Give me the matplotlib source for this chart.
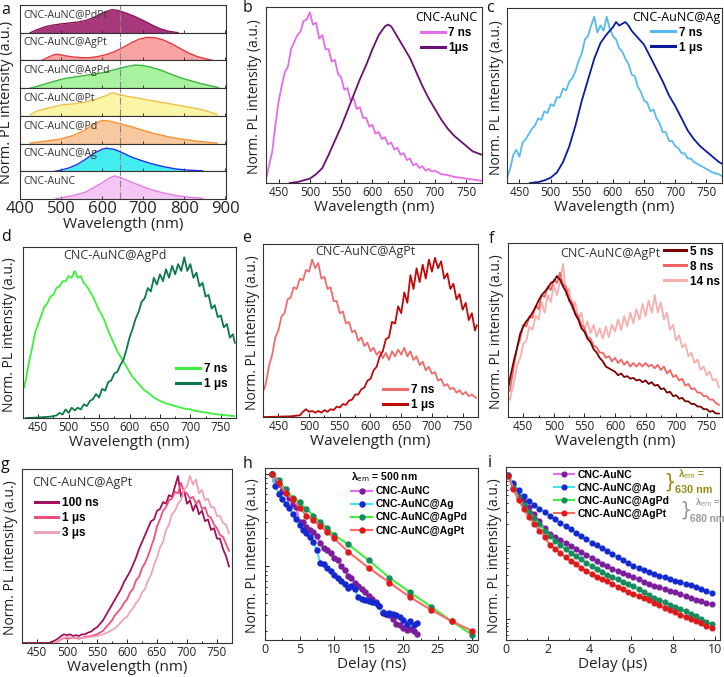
import numpy as np
import matplotlib
matplotlib.use('Agg')
import matplotlib.pyplot as plt

W, H = 724, 677
plt.rcParams['font.family'] = ['Open Sans', 'DejaVu Sans']
plt.rcParams['mathtext.fontset'] = 'dejavusans'
BOLD = ['Liberation Sans', 'DejaVu Sans']

# ---------------- data: panel a (normalized, stacked) ----------------
a_names = ['CNC-AuNC@PdPt', 'CNC-AuNC@AgPt', 'CNC-AuNC@AgPd', 'CNC-AuNC@Pt',
           'CNC-AuNC@Pd', 'CNC-AuNC@Ag', 'CNC-AuNC']
a_PdPt = [(425, 0), (440, 0.12), (460, 0.25), (480, 0.33), (500, 0.38), (520, 0.42), (540, 0.46),
          (560, 0.53), (580, 0.66), (600, 0.84), (615, 0.95), (625, 1.0), (640, 0.96), (660, 0.84),
          (680, 0.70), (700, 0.53), (720, 0.35), (740, 0.18), (760, 0.07), (785, 0.0)]
a_AgPt = [(453, 0), (470, 0.15), (485, 0.26), (495, 0.26), (510, 0.2), (530, 0.15), (550, 0.12),
          (570, 0.12), (590, 0.17), (610, 0.25), (630, 0.38), (650, 0.55), (670, 0.75), (690, 0.92),
          (710, 1.0), (730, 0.98), (750, 0.88), (770, 0.72), (790, 0.52), (810, 0.33), (830, 0.18),
          (850, 0.08), (870, 0.0)]
a_AgPd = [(425, 0), (450, 0.12), (480, 0.28), (510, 0.42), (540, 0.5), (570, 0.58), (600, 0.66),
          (630, 0.8), (660, 0.93), (680, 1.0), (700, 0.98), (720, 0.9), (740, 0.8), (760, 0.66),
          (780, 0.52), (800, 0.4), (820, 0.3), (840, 0.2), (860, 0.12), (880, 0.04), (885, 0)]
a_Pt = [(425, 0.05), (440, 0.2), (460, 0.3), (480, 0.38), (500, 0.47), (530, 0.52), (560, 0.6),
        (590, 0.75), (610, 0.88), (625, 1.0), (640, 0.93), (660, 0.85), (690, 0.76), (720, 0.66),
        (750, 0.57), (780, 0.48), (810, 0.38), (840, 0.28), (860, 0.18), (880, 0.06)]
a_Pd = [(425, 0.02), (460, 0.1), (500, 0.2), (530, 0.35), (560, 0.6), (580, 0.85), (600, 1.0),
        (620, 0.97), (640, 0.88), (670, 0.74), (700, 0.57), (730, 0.42), (760, 0.3), (790, 0.2),
        (820, 0.13), (850, 0.07), (880, 0.02)]
a_Ag = [(486, 0), (500, 0.05), (520, 0.15), (540, 0.3), (560, 0.52), (580, 0.78), (600, 0.95),
        (610, 1.0), (630, 0.95), (650, 0.8), (670, 0.63), (690, 0.5), (720, 0.33), (750, 0.2),
        (780, 0.1), (810, 0.05), (845, 0.02)]
a_AuNC = [(486, 0), (500, 0.05), (530, 0.15), (560, 0.3), (580, 0.5), (600, 0.7), (615, 0.88),
          (630, 1.0), (645, 0.93), (665, 0.78), (690, 0.6), (720, 0.4), (750, 0.26), (780, 0.15),
          (810, 0.08), (845, 0.03)]
a_ref_line = 643

# ---------------- data: panel b ----------------
b_7ns = [(430, 0.02), (435, 0.10), (440, 0.18), (445, 0.33), (450, 0.46), (455, 0.55), (460, 0.63),
         (465, 0.66), (470, 0.76), (475, 0.80), (480, 0.84), (485, 0.86), (490, 0.92), (495, 0.93),
         (500, 0.97), (505, 0.90), (510, 0.91), (515, 0.82), (520, 0.84), (525, 0.76), (530, 0.76),
         (535, 0.69), (540, 0.70), (545, 0.62), (550, 0.60), (555, 0.53), (560, 0.54), (565, 0.47),
         (570, 0.48), (575, 0.42), (580, 0.43), (585, 0.37), (590, 0.37), (595, 0.32), (600, 0.33),
         (605, 0.28), (610, 0.29), (615, 0.25), (620, 0.26), (625, 0.22), (630, 0.23), (635, 0.19),
         (640, 0.20), (645, 0.16), (650, 0.17), (655, 0.13), (660, 0.14), (665, 0.10), (670, 0.11),
         (675, 0.085), (680, 0.095), (685, 0.07), (690, 0.08), (695, 0.065), (700, 0.07), (710, 0.05),
         (720, 0.045), (730, 0.035), (740, 0.03), (750, 0.025), (760, 0.02), (770, 0.015), (775, 0.012)]
b_1us = [(468, 0.0), (480, 0.005), (490, 0.015), (500, 0.025), (510, 0.05), (520, 0.085), (530, 0.16),
         (540, 0.24), (550, 0.32), (560, 0.41), (570, 0.50), (580, 0.59), (590, 0.67), (600, 0.76),
         (610, 0.84), (620, 0.89), (625, 0.90), (630, 0.89), (640, 0.83), (650, 0.77), (660, 0.71),
         (670, 0.63), (680, 0.55), (690, 0.48), (700, 0.42), (710, 0.36), (720, 0.31), (730, 0.27),
         (740, 0.24), (750, 0.21), (760, 0.18), (775, 0.16)]

# ---------------- data: panel c ----------------
c_7ns = [(430, 0.03), (435, 0.08), (440, 0.16), (445, 0.19), (450, 0.15), (455, 0.23), (460, 0.25),
         (465, 0.28), (470, 0.31), (475, 0.33), (480, 0.37), (485, 0.36), (490, 0.41), (495, 0.40),
         (500, 0.45), (505, 0.44), (510, 0.49), (515, 0.49), (520, 0.54), (525, 0.53), (530, 0.58),
         (535, 0.60), (540, 0.64), (545, 0.70), (550, 0.74), (555, 0.82), (560, 0.84), (565, 0.90),
         (570, 0.95), (575, 0.86), (580, 0.90), (585, 0.87), (590, 0.95), (595, 0.88), (600, 0.84),
         (605, 0.82), (610, 0.77), (615, 0.75), (620, 0.71), (625, 0.68), (630, 0.62), (635, 0.61),
         (640, 0.55), (645, 0.52), (650, 0.47), (655, 0.46), (660, 0.41), (665, 0.42), (670, 0.37),
         (675, 0.34), (680, 0.29), (685, 0.29), (690, 0.24), (695, 0.24), (700, 0.21), (705, 0.20),
         (710, 0.17), (715, 0.17), (720, 0.14), (725, 0.14), (730, 0.12), (740, 0.10), (750, 0.08),
         (760, 0.06), (770, 0.05), (775, 0.04)]
c_1us = [(467, 0.0), (480, 0.005), (490, 0.015), (500, 0.03), (510, 0.06), (520, 0.12), (530, 0.21),
         (540, 0.33), (550, 0.47), (560, 0.59), (570, 0.71), (580, 0.80), (590, 0.85), (600, 0.89),
         (605, 0.92), (610, 0.90), (615, 0.91), (620, 0.92), (625, 0.90), (630, 0.87), (640, 0.83),
         (650, 0.79), (660, 0.72), (670, 0.65), (680, 0.58), (690, 0.50), (700, 0.44), (710, 0.37),
         (720, 0.30), (730, 0.25), (740, 0.21), (750, 0.18), (760, 0.15), (770, 0.12), (775, 0.11)]

# ---------------- data: panel d ----------------
d_7ns = [(427, 0.18), (430, 0.23), (435, 0.33), (440, 0.41), (445, 0.50), (450, 0.55), (455, 0.60),
         (460, 0.65), (465, 0.67), (470, 0.71), (475, 0.72), (480, 0.76), (485, 0.77), (490, 0.80),
         (495, 0.80), (500, 0.83), (505, 0.82), (510, 0.86), (515, 0.82), (520, 0.83), (525, 0.79),
         (530, 0.77), (535, 0.74), (540, 0.71), (545, 0.67), (550, 0.63), (555, 0.60), (560, 0.56),
         (565, 0.51), (570, 0.47), (575, 0.43), (580, 0.39), (585, 0.36), (590, 0.33), (595, 0.30),
         (600, 0.27), (605, 0.24), (610, 0.22), (615, 0.20), (620, 0.18), (625, 0.16), (630, 0.15),
         (640, 0.12), (650, 0.10), (660, 0.085), (670, 0.075), (680, 0.065), (690, 0.055), (700, 0.05),
         (710, 0.04), (720, 0.035), (730, 0.03), (740, 0.022), (750, 0.02), (760, 0.015), (772, 0.012)]
d_1us = [(430, 0.0), (450, 0.003), (470, 0.008), (480, 0.015), (485, 0.03), (490, 0.02), (495, 0.05),
         (500, 0.03), (505, 0.06), (510, 0.045), (515, 0.06), (520, 0.05), (525, 0.08), (530, 0.07),
         (535, 0.10), (540, 0.11), (545, 0.14), (550, 0.12), (555, 0.17), (560, 0.16), (565, 0.21),
         (570, 0.22), (575, 0.26), (580, 0.27), (585, 0.31), (590, 0.34), (595, 0.40), (600, 0.47),
         (605, 0.52), (610, 0.58), (615, 0.62), (620, 0.68), (625, 0.70), (630, 0.76), (635, 0.74),
         (640, 0.82), (645, 0.78), (650, 0.84), (655, 0.80), (660, 0.87), (665, 0.82), (670, 0.89),
         (675, 0.84), (680, 0.90), (685, 0.86), (690, 0.94), (695, 0.86), (700, 0.90), (705, 0.82),
         (710, 0.85), (715, 0.77), (720, 0.79), (725, 0.71), (730, 0.72), (735, 0.64), (740, 0.66),
         (745, 0.59), (750, 0.60), (755, 0.53), (760, 0.55), (765, 0.47), (770, 0.49), (773, 0.44)]

# ---------------- data: panel e ----------------
e_7ns = [(427, 0.16), (430, 0.20), (435, 0.30), (440, 0.36), (445, 0.46), (450, 0.50), (455, 0.58),
         (460, 0.60), (465, 0.68), (470, 0.69), (475, 0.75), (480, 0.74), (485, 0.80), (490, 0.79),
         (495, 0.85), (500, 0.84), (505, 0.91), (510, 0.86), (515, 0.89), (520, 0.80), (525, 0.81),
         (530, 0.74), (535, 0.75), (540, 0.67), (545, 0.67), (550, 0.60), (555, 0.61), (560, 0.54),
         (565, 0.55), (570, 0.49), (575, 0.50), (580, 0.44), (585, 0.46), (590, 0.41), (595, 0.43),
         (600, 0.38), (605, 0.40), (610, 0.36), (615, 0.38), (620, 0.34), (625, 0.37), (630, 0.33),
         (635, 0.38), (640, 0.35), (645, 0.39), (650, 0.36), (655, 0.40), (660, 0.35), (665, 0.38),
         (670, 0.33), (675, 0.35), (680, 0.30), (685, 0.32), (690, 0.27), (695, 0.29), (700, 0.25),
         (705, 0.26), (710, 0.21), (715, 0.22), (720, 0.18), (725, 0.19), (730, 0.16), (735, 0.17),
         (740, 0.14), (745, 0.155), (750, 0.13), (755, 0.145), (760, 0.12), (765, 0.13), (772, 0.11)]
e_1us = [(427, 0.0), (450, 0.002), (470, 0.004), (480, 0.008), (485, 0.01), (490, 0.03), (495, 0.045),
         (500, 0.03), (505, 0.035), (510, 0.025), (515, 0.035), (520, 0.025), (525, 0.04), (530, 0.03),
         (535, 0.045), (540, 0.04), (545, 0.06), (550, 0.055), (555, 0.075), (560, 0.07), (565, 0.095),
         (570, 0.10), (575, 0.13), (580, 0.13), (585, 0.16), (590, 0.17), (595, 0.21), (600, 0.22),
         (605, 0.27), (610, 0.29), (615, 0.35), (620, 0.38), (625, 0.45), (630, 0.46), (635, 0.55),
         (640, 0.54), (645, 0.64), (650, 0.60), (655, 0.72), (660, 0.66), (665, 0.82), (670, 0.74),
         (675, 0.86), (680, 0.78), (685, 0.88), (690, 0.80), (695, 0.91), (700, 0.84), (705, 0.92),
         (710, 0.86), (715, 0.90), (720, 0.80), (725, 0.83), (730, 0.74), (735, 0.77), (740, 0.68),
         (745, 0.71), (750, 0.62), (755, 0.66), (760, 0.56), (765, 0.60), (770, 0.50), (773, 0.53)]

# ---------------- data: panel f ----------------
f_5ns = [(426, 0.18), (430, 0.25), (435, 0.33), (440, 0.40), (445, 0.48), (450, 0.52), (455, 0.55),
         (460, 0.57), (465, 0.60), (470, 0.63), (475, 0.67), (480, 0.70), (485, 0.72), (490, 0.74),
         (495, 0.77), (500, 0.78), (505, 0.81), (510, 0.79), (515, 0.75), (520, 0.72), (525, 0.67),
         (530, 0.64), (535, 0.59), (540, 0.56), (545, 0.51), (550, 0.49), (555, 0.45), (560, 0.43),
         (565, 0.39), (570, 0.37), (575, 0.34), (580, 0.32), (585, 0.29), (590, 0.28), (595, 0.27),
         (600, 0.26), (605, 0.24), (610, 0.25), (615, 0.23), (620, 0.235), (625, 0.22), (630, 0.225),
         (635, 0.21), (640, 0.215), (645, 0.20), (650, 0.21), (655, 0.19), (660, 0.20), (665, 0.18),
         (670, 0.185), (675, 0.16), (680, 0.165), (685, 0.14), (690, 0.145), (695, 0.12), (700, 0.125),
         (705, 0.105), (710, 0.11), (715, 0.09), (720, 0.09), (725, 0.075), (730, 0.075), (735, 0.06),
         (740, 0.06), (745, 0.045), (750, 0.045), (755, 0.03), (760, 0.035), (765, 0.02), (770, 0.02)]
f_8ns = [(428, 0.15), (435, 0.30), (440, 0.40), (445, 0.45), (450, 0.53), (455, 0.52), (460, 0.58),
         (465, 0.57), (470, 0.64), (475, 0.62), (480, 0.70), (485, 0.69), (490, 0.75), (495, 0.73),
         (500, 0.79), (505, 0.77), (510, 0.83), (515, 0.76), (520, 0.75), (525, 0.68), (530, 0.66),
         (535, 0.60), (540, 0.58), (545, 0.53), (550, 0.51), (555, 0.46), (560, 0.45), (565, 0.41),
         (570, 0.40), (575, 0.37), (580, 0.37), (585, 0.34), (590, 0.35), (595, 0.32), (600, 0.34),
         (605, 0.31), (610, 0.33), (615, 0.30), (620, 0.32), (625, 0.29), (630, 0.31), (635, 0.29),
         (640, 0.31), (645, 0.29), (650, 0.31), (655, 0.29), (660, 0.30), (665, 0.28), (670, 0.30),
         (675, 0.27), (680, 0.29), (685, 0.25), (690, 0.27), (695, 0.23), (700, 0.24), (705, 0.21),
         (710, 0.22), (715, 0.18), (720, 0.19), (725, 0.16), (730, 0.165), (735, 0.14), (740, 0.14),
         (745, 0.12), (750, 0.12), (755, 0.10), (760, 0.10), (765, 0.08), (770, 0.07)]
f_14ns = [(428, 0.10), (432, 0.16), (436, 0.22), (440, 0.30), (445, 0.34), (450, 0.42), (455, 0.44),
          (460, 0.52), (465, 0.50), (470, 0.58), (475, 0.56), (480, 0.66), (485, 0.60), (490, 0.70),
          (495, 0.66), (500, 0.76), (505, 0.70), (510, 0.78), (515, 0.88), (520, 0.70), (525, 0.74),
          (530, 0.62), (535, 0.66), (540, 0.56), (545, 0.60), (550, 0.50), (555, 0.55), (560, 0.48),
          (565, 0.53), (570, 0.46), (575, 0.51), (580, 0.45), (585, 0.52), (590, 0.46), (595, 0.53),
          (600, 0.49), (605, 0.56), (610, 0.50), (615, 0.58), (620, 0.52), (625, 0.60), (630, 0.54),
          (635, 0.62), (640, 0.56), (645, 0.65), (650, 0.58), (655, 0.67), (660, 0.60), (665, 0.70),
          (670, 0.60), (675, 0.66), (680, 0.56), (685, 0.60), (690, 0.50), (695, 0.53), (700, 0.44),
          (705, 0.47), (710, 0.40), (715, 0.42), (720, 0.35), (725, 0.37), (730, 0.31), (735, 0.33),
          (740, 0.27), (745, 0.29), (750, 0.24), (755, 0.26), (760, 0.21), (765, 0.22), (770, 0.17)]

# ---------------- data: panel g ----------------
g_100ns = [(427, 0.0), (470, 0.0), (480, 0.015), (485, 0.025), (490, 0.04), (495, 0.05), (500, 0.045),
           (505, 0.05), (510, 0.04), (515, 0.045), (520, 0.04), (525, 0.05), (530, 0.05), (535, 0.06),
           (540, 0.065), (545, 0.08), (550, 0.09), (555, 0.11), (560, 0.13), (565, 0.16), (570, 0.19),
           (575, 0.22), (580, 0.25), (585, 0.28), (590, 0.31), (595, 0.35), (600, 0.38), (605, 0.41),
           (610, 0.45), (615, 0.49), (620, 0.54), (625, 0.58), (630, 0.62), (635, 0.66), (640, 0.70),
           (645, 0.71), (650, 0.76), (655, 0.77), (660, 0.81), (665, 0.80), (670, 0.85), (675, 0.84),
           (680, 0.90), (685, 0.96), (690, 0.84), (695, 0.88), (700, 0.80), (705, 0.82), (710, 0.76),
           (715, 0.80), (720, 0.74), (725, 0.76), (730, 0.70), (735, 0.71), (740, 0.65), (745, 0.66),
           (750, 0.60), (755, 0.60), (760, 0.54), (765, 0.50), (770, 0.44)]
g_1us = [(480, 0.0), (490, 0.02), (495, 0.03), (500, 0.025), (510, 0.03), (520, 0.025), (530, 0.035),
         (540, 0.04), (550, 0.05), (555, 0.06), (560, 0.07), (565, 0.09), (570, 0.11), (575, 0.13),
         (580, 0.16), (585, 0.18), (590, 0.20), (595, 0.23), (600, 0.25), (605, 0.29), (610, 0.31),
         (615, 0.36), (620, 0.38), (625, 0.43), (630, 0.46), (635, 0.50), (640, 0.55), (645, 0.60),
         (650, 0.67), (655, 0.71), (660, 0.76), (665, 0.78), (670, 0.82), (675, 0.83), (680, 0.87),
         (685, 0.86), (690, 0.92), (695, 0.87), (700, 0.86), (705, 0.83), (710, 0.84), (715, 0.80),
         (720, 0.82), (725, 0.77), (730, 0.78), (735, 0.73), (740, 0.72), (745, 0.68), (750, 0.66),
         (755, 0.62), (760, 0.61), (765, 0.57), (770, 0.53)]
g_3us = [(480, 0.0), (490, 0.025), (500, 0.035), (510, 0.03), (520, 0.03), (530, 0.03), (540, 0.035),
         (550, 0.04), (560, 0.05), (570, 0.065), (580, 0.085), (585, 0.10), (590, 0.12), (595, 0.14),
         (600, 0.15), (605, 0.18), (610, 0.20), (615, 0.23), (620, 0.25), (625, 0.29), (630, 0.31),
         (635, 0.36), (640, 0.39), (645, 0.45), (650, 0.49), (655, 0.55), (660, 0.58), (665, 0.65),
         (670, 0.68), (675, 0.74), (680, 0.76), (685, 0.80), (690, 0.82), (695, 0.88), (700, 0.90),
         (705, 0.96), (710, 0.91), (715, 0.94), (720, 0.86), (725, 0.88), (730, 0.82), (735, 0.83),
         (740, 0.78), (745, 0.78), (750, 0.73), (755, 0.73), (760, 0.69), (765, 0.68), (770, 0.63)]

# ---------------- data: panel h (delay in ns, normalized intensity, log) ----------------
h_t_fast = [1, 1.5, 2, 2.5, 3, 3.5, 4, 4.5, 5, 5.5, 6, 6.5, 7, 7.5, 8, 8.5, 9, 9.5, 10, 10.5, 11,
            11.5, 12, 12.5, 13, 13.5, 14, 14.5, 15, 15.5, 16, 16.5, 17, 17.5, 18, 18.5, 19, 19.5,
            20, 20.5, 21, 21.5, 22]
h_AuNC = [1.0, 0.843, 0.764, 0.650, 0.624, 0.552, 0.469, 0.433, 0.300, 0.300, 0.266, 0.249, 0.235,
          0.212, 0.177, 0.157, 0.150, 0.139, 0.123, 0.118, 0.100, 0.0922, 0.0785, 0.0755, 0.0666,
          0.0615, 0.0567, 0.0521, 0.0481, 0.0443, 0.0408, 0.0376, 0.0320, 0.0307, 0.0295, 0.0272,
          0.0241, 0.0232, 0.0214, 0.0205, 0.0210, 0.0200, 0.0184]
h_Ag = [1.0, 0.734, 0.609, 0.530, 0.469, 0.426, 0.368, 0.325, 0.276, 0.249, 0.226, 0.205, 0.184,
        0.150, 0.108, 0.107, 0.0960, 0.0885, 0.0796, 0.0752, 0.0693, 0.0640, 0.0589, 0.0614, 0.0566,
        0.0462, 0.0443, 0.0436, 0.0426, 0.0415, 0.0402, 0.0371, 0.0315, 0.0307, 0.0313, 0.0305,
        0.0295, 0.0283, 0.0261, 0.0241, 0.0255, 0.0231, 0.0243]
h_t_slow = [1, 2, 3, 4, 5, 6, 7, 8, 9, 10, 12, 15, 18, 21, 24, 27, 30]
h_AgPd = [1.0, 0.843, 0.676, 0.552, 0.489, 0.415, 0.353, 0.300, 0.261, 0.217, 0.173, 0.116, 0.0752,
          0.0521, 0.0367, 0.0255, 0.0181]
h_AgPt = [1.0, 0.796, 0.624, 0.530, 0.426, 0.353, 0.312, 0.270, 0.235, 0.200, 0.144, 0.0960, 0.0666,
          0.0462, 0.0339, 0.0255, 0.0200]

# ---------------- data: panel i (delay in us) ----------------
i_t = [0.1, 0.35, 0.6, 0.85, 1.1, 1.35, 1.6, 1.85, 2.1, 2.35, 2.6, 2.85, 3.1, 3.35, 3.6, 3.85,
       4.1, 4.35, 4.6, 4.85, 5.1, 5.35, 5.6, 5.85, 6.1, 6.35, 6.6, 6.85, 7.1, 7.35, 7.6, 7.85,
       8.1, 8.35, 8.6, 8.85, 9.1, 9.35, 9.6, 9.85]
i_AuNC = [0.946, 0.713, 0.548, 0.432, 0.343, 0.275, 0.221, 0.178, 0.150, 0.136, 0.123, 0.112,
          0.102, 0.0927, 0.0843, 0.0769, 0.0701, 0.0640, 0.0583, 0.0532, 0.0490, 0.0459, 0.0430,
          0.0402, 0.0376, 0.0352, 0.0330, 0.0308, 0.0290, 0.0275, 0.0261, 0.0248, 0.0234, 0.0221,
          0.0207, 0.0195, 0.0185, 0.0176, 0.0168, 0.0160]
i_Ag = [0.95, 0.740, 0.590, 0.490, 0.418, 0.372, 0.330, 0.293, 0.262, 0.235, 0.212, 0.191, 0.171,
        0.154, 0.139, 0.125, 0.113, 0.103, 0.0938, 0.0855, 0.078, 0.0711, 0.0649, 0.0592, 0.0545,
        0.0511, 0.0478, 0.0447, 0.0421, 0.0399, 0.0378, 0.0359, 0.0340, 0.0323, 0.0306, 0.0291,
        0.0275, 0.0260, 0.0245, 0.0231]
i_AgPd = [0.929, 0.641, 0.468, 0.369, 0.297, 0.247, 0.203, 0.164, 0.137, 0.120, 0.105, 0.0923,
          0.0818, 0.0736, 0.0662, 0.0596, 0.0540, 0.0492, 0.0448, 0.0408, 0.0376, 0.0352, 0.0330,
          0.0308, 0.0286, 0.0261, 0.0238, 0.0217, 0.0199, 0.0185, 0.0172, 0.0159, 0.0148, 0.0138,
          0.0129, 0.0120, 0.0111, 0.0102, 0.0093, 0.0085]
i_AgPt = [0.923, 0.620, 0.435, 0.325, 0.251, 0.203, 0.165, 0.136, 0.105, 0.0925, 0.0811, 0.0710,
          0.0630, 0.0566, 0.0509, 0.0458, 0.0416, 0.0385, 0.0361, 0.0333, 0.0303, 0.0280, 0.0259,
          0.0239, 0.0222, 0.0208, 0.0195, 0.0182, 0.0169, 0.0157, 0.0145, 0.0134, 0.0124, 0.0116,
          0.0109, 0.0102, 0.0095, 0.0088, 0.0081, 0.0075]

# ---------------- styling ----------------
fig = plt.figure(figsize=(W / 100, H / 100), dpi=100)
SPC = '#333333'


def rect(l, t, r, b):
    return [l / W, 1 - b / H, (r - l) / W, (b - t) / H]


def style_spines(ax):
    for s in ax.spines.values():
        s.set_linewidth(0.8)
        s.set_color(SPC)


def ylab(x, t, b):
    fig.text(x / W, 1 - ((t + b) / 2 + 2) / H, 'Norm. PL intensity (a.u.)', rotation=90,
             ha='center', va='center', fontsize=10, color='#222222')


def letter(x, y, s):
    fig.text(x / W, 1 - y / H, s, ha='left', va='center', fontsize=11.5, color='#111111')


def spec_ax(l, t, r, b, xlim, ylx):
    ax = fig.add_axes(rect(l, t, r, b))
    ax.set_xlim(*xlim)
    ax.set_ylim(0, 1)
    ax.set_xticks([450, 500, 550, 600, 650, 700, 750])
    ax.set_xticks([475, 525, 575, 625, 675, 725, 775], minor=True)
    ax.tick_params(axis='x', which='major', direction='in', length=3, width=0.7, labelsize=8.5,
                   pad=2, colors='#222222')
    ax.tick_params(axis='x', which='minor', direction='in', length=1.6, width=0.6)
    ax.set_yticks([])
    style_spines(ax)
    ax.set_xlabel('Wavelength (nm)', fontsize=11, labelpad=1, color='#222222')
    ylab(ylx, t, b)
    return ax


def xy(pairs):
    arr = np.array(pairs, dtype=float)
    return arr[:, 0], arr[:, 1]


def leg(ax, handles_spec, anchor, title=None, fs=8.5, hl=2.0, loc='upper left'):
    hs = [plt.Line2D([], [], color=c, lw=2.2) for c, _ in handles_spec]
    lg = ax.legend(hs, [n for _, n in handles_spec], loc=loc, bbox_to_anchor=anchor,
                   frameon=False, borderpad=0, borderaxespad=0, handlelength=hl,
                   handletextpad=0.3, labelspacing=0.25, title=title,
                   prop={'family': BOLD, 'weight': 'bold', 'size': fs},
                   title_fontproperties={'family': ['Open Sans', 'DejaVu Sans'], 'size': 9})
    return lg


LW = 1.3

# ---------------- panel a ----------------
a_series = [a_PdPt, a_AgPt, a_AgPd, a_Pt, a_Pd, a_Ag, a_AuNC]
a_line = ['#8B1455', '#E8383A', '#3CB43C', '#F2C04A', '#F5922D', '#1F33E8', '#E47BE4']
a_fill = ['#A8387C', '#F7A3A3', '#A9F2A0', '#FBF6A6', '#F8C9A0', '#44EEF0', '#F3C6F3']
a_top, a_bot, a_l, a_r = 5, 199, 20, 226
sh = (a_bot - a_top) / 7
for k in range(7):
    t = a_top + k * sh
    ax = fig.add_axes(rect(a_l, t, a_r, t + sh))
    x, y = xy(a_series[k])
    ax.fill_between(x, 0, y, color=a_fill[k], lw=0)
    ax.plot(x, y, color=a_line[k], lw=1.0)
    ax.axvline(a_ref_line, color='#888888', lw=0.8, ls='-.')
    ax.set_xlim(400, 902)
    ax.set_ylim(0, 1.2)
    ax.set_yticks([])
    ax.set_xticks([400, 500, 600, 700, 800, 900])
    ax.tick_params(axis='x', direction='in', length=2.5, width=0.6, labelbottom=(k == 6),
                   labelsize=12, pad=1.5, colors='#222222')
    style_spines(ax)
    ax.text(0.015, 0.70, a_names[k], transform=ax.transAxes, fontsize=7.6, color='#333333',
            ha='left', va='center_baseline')
    if k == 6:
        ax.set_xlabel('Wavelength (nm)', fontsize=11, labelpad=0, color='#222222')
fig.text(7 / W, 1 - 102 / H, 'Norm. PL intensity (a.u.)', rotation=90, ha='center', va='center',
         fontsize=10.5, color='#222222')
letter(1, 10, 'a')

# ---------------- panel b ----------------
ax = spec_ax(266, 7, 482, 183, (430, 775), 255)
x, y = xy(b_7ns); ax.plot(x, y, color='#E46BEA', lw=LW)
x, y = xy(b_1us); ax.plot(x, y, color='#6B0F75', lw=LW)
leg(ax, [('#E46BEA', '7 ns'), ('#6B0F75', '1μs')], (0.69, 0.975), title='CNC-AuNC')
letter(243, 8, 'b')

# ---------------- panel c ----------------
ax = spec_ax(507, 8, 722, 183, (430, 775), 497)
x, y = xy(c_7ns); ax.plot(x, y, color='#55BBF2', lw=LW)
x, y = xy(c_1us); ax.plot(x, y, color='#0A1C9E', lw=LW)
leg(ax, [('#55BBF2', '7 ns'), ('#0A1C9E', '1 μs')], (0.995, 0.985), title='CNC-AuNC@Ag',
    loc='upper right')
letter(486, 8, 'c')

# ---------------- panel d ----------------
ax = spec_ax(23, 247, 236, 418, (425, 775), 10)
x, y = xy(d_7ns); ax.plot(x, y, color='#3CF03C', lw=LW)
x, y = xy(d_1us); ax.plot(x, y, color='#0B7A4B', lw=LW)
ax.text(0.19, 0.95, 'CNC-AuNC@AgPd', transform=ax.transAxes, fontsize=9, color='#333333',
        ha='left', va='center')
leg(ax, [('#3CF03C', '7 ns'), ('#0B7A4B', '1 μs')], (0.72, 0.32))
letter(1, 237, 'd')

# ---------------- panel e ----------------
ax = spec_ax(263, 244, 478, 417, (425, 775), 252)
x, y = xy(e_7ns); ax.plot(x, y, color='#F26B6B', lw=LW)
x, y = xy(e_1us); ax.plot(x, y, color='#C00A0A', lw=LW)
ax.text(0.245, 0.955, 'CNC-AuNC@AgPt', transform=ax.transAxes, fontsize=9, color='#333333',
        ha='left', va='center')
leg(ax, [('#F26B6B', '7 ns'), ('#C00A0A', '1 μs')], (0.56, 0.19))
letter(242, 238, 'e')

# ---------------- panel f ----------------
ax = spec_ax(508, 243, 722, 417, (425, 775), 497)
x, y = xy(f_14ns); ax.plot(x, y, color='#F7AEAE', lw=LW)
x, y = xy(f_8ns); ax.plot(x, y, color='#F26464', lw=LW)
x, y = xy(f_5ns); ax.plot(x, y, color='#7A0000', lw=LW)
ax.text(0.245, 0.94, 'CNC-AuNC@AgPt', transform=ax.transAxes, fontsize=9, color='#333333',
        ha='left', va='center')
leg(ax, [('#7A0000', '5 ns'), ('#F26464', '8 ns'), ('#F7AEAE', '14 ns')], (0.99, 0.985),
    hl=1.9, loc='upper right')
letter(489, 239, 'f')

# ---------------- panel g ----------------
ax = spec_ax(22, 469, 232, 643, (425, 775), 11)
x, y = xy(g_100ns); ax.plot(x, y, color='#A3105B', lw=LW)
x, y = xy(g_1us); ax.plot(x, y, color='#F0507A', lw=LW)
x, y = xy(g_3us); ax.plot(x, y, color='#EFA3B9', lw=LW)
ax.text(0.05, 0.92, 'CNC-AuNC@AgPt', transform=ax.transAxes, fontsize=9, color='#333333',
        ha='left', va='center')
leg(ax, [('#A3105B', '100 ns'), ('#F0507A', '1 μs'), ('#EFA3B9', '3 μs')], (0.06, 0.84))
letter(1, 465, 'g')

# ---------------- decay panels ----------------
dec_line = ['#E070F0', '#3FE3F3', '#3CF03C', '#FF6868']
dec_mark = ['#7A1E9C', '#1428D0', '#178A60', '#DD1A1A']
dec_names = ['CNC-AuNC', 'CNC-AuNC@Ag', 'CNC-AuNC@AgPd', 'CNC-AuNC@AgPt']
LFS = 7.5


def dec_ax(l, t, r, b, ylx):
    ax = fig.add_axes(rect(l, t, r, b))
    ax.set_yscale('log')
    ax.tick_params(axis='y', which='both', direction='in', labelleft=False, width=0.6)
    ax.tick_params(axis='y', which='major', length=3)
    ax.tick_params(axis='y', which='minor', length=1.6)
    ax.tick_params(axis='x', which='major', direction='in', length=3, width=0.7, labelsize=9,
                   pad=2, colors='#222222')
    ax.tick_params(axis='x', which='minor', direction='in', length=1.6, width=0.6)
    style_spines(ax)
    ylab(ylx, t, b)
    return ax


ax = dec_ax(265, 468, 478, 640, 252)
hs = []
for tt, vv, k in [(h_t_fast, h_AuNC, 0), (h_t_fast, h_Ag, 1), (h_t_slow, h_AgPd, 2),
                  (h_t_slow, h_AgPt, 3)]:
    ln, = ax.plot(tt, vv, color=dec_line[k], lw=1.5, marker='o', ms=3.6, mfc=dec_mark[k],
                  mec=dec_mark[k], label=dec_names[k])
    hs.append(ln)
ax.set_xlim(0, 30.8)
ax.set_ylim(0.016, 1.15)
ax.set_xticks([0, 5, 10, 15, 20, 25, 30])
ax.set_xticks([2.5, 7.5, 12.5, 17.5, 22.5, 27.5], minor=True)
ax.set_xlabel('Delay (ns)', fontsize=11, labelpad=1, color='#222222')
lg = ax.legend(handles=hs, loc='upper left', bbox_to_anchor=(0.405, 0.99), frameon=False,
               borderpad=0, borderaxespad=0, handlelength=2.0, handletextpad=0.35,
               labelspacing=0.28, prop={'family': BOLD, 'weight': 'bold', 'size': LFS},
               title='λ$_{\\rm em}$ = 500 nm',
               title_fontproperties={'family': BOLD, 'weight': 'bold', 'size': LFS})
lg._legend_box.align = 'left'
letter(243, 464, 'h')

ax = dec_ax(506, 467, 720, 640, 495)
hs = []
for vv, k in [(i_AuNC, 0), (i_Ag, 1), (i_AgPd, 2), (i_AgPt, 3)]:
    ln, = ax.plot(i_t, vv, color=dec_line[k], lw=1.5, marker='o', ms=3.4, mfc=dec_mark[k],
                  mec=dec_mark[k], label=dec_names[k])
    hs.append(ln)
ax.set_xlim(0, 10.25)
ax.set_ylim(0.0052, 1.23)
ax.set_xticks([0, 2, 4, 6, 8, 10])
ax.set_xticks([1, 3, 5, 7, 9], minor=True)
ax.set_xlabel('Delay (μs)', fontsize=11, labelpad=1, color='#222222')
ax.legend(handles=hs, loc='upper left', bbox_to_anchor=(0.222, 0.985), frameon=False,
          borderpad=0, borderaxespad=0, handlelength=2.0, handletextpad=0.35, labelspacing=0.28,
          prop={'family': BOLD, 'weight': 'bold', 'size': LFS})
OL = '#9A8A12'
GR = '#9A9A9A'
ax.text(0.735, 0.913, '}', transform=ax.transAxes, fontsize=14, color=OL, ha='left',
        va='center', family=['DejaVu Sans'])
ax.text(0.805, 0.958, 'λ$_{\\rm em}$ =', transform=ax.transAxes, fontsize=7, color=OL,
        ha='left', va='center', family=BOLD, weight='bold')
ax.text(0.79, 0.867, '630 nm', transform=ax.transAxes, fontsize=7.8, color=OL,
        ha='left', va='center', family=BOLD, weight='bold')
ax.text(0.81, 0.751, '}', transform=ax.transAxes, fontsize=14, color=GR, ha='left',
        va='center', family=['DejaVu Sans'])
ax.text(0.885, 0.795, 'λ$_{\\rm em}$ =', transform=ax.transAxes, fontsize=6.8, color=GR,
        ha='left', va='center', family=BOLD, weight='bold')
ax.text(0.86, 0.70, '680 nm', transform=ax.transAxes, fontsize=7.2, color=GR,
        ha='left', va='center', family=BOLD, weight='bold')
letter(488, 463, 'i')

fig.savefig('out.png', dpi=100)
